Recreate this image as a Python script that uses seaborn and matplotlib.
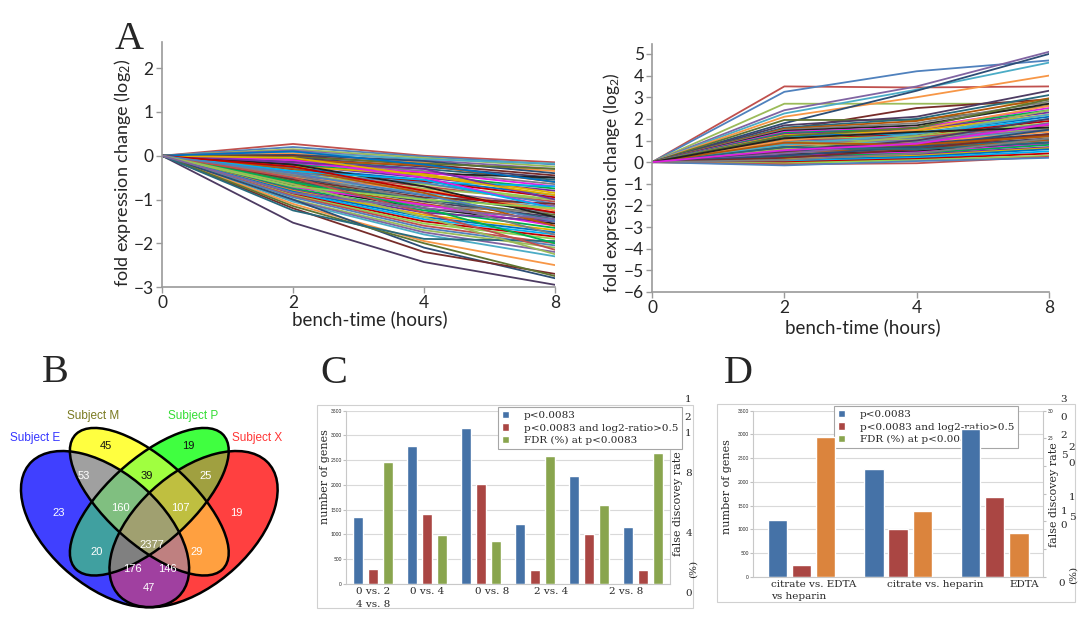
import itertools
import numpy as np, pandas as pd
import matplotlib; matplotlib.use('Agg')
import matplotlib.pyplot as plt
from matplotlib.colors import to_rgb
from matplotlib.patches import Ellipse, Patch, Rectangle
from matplotlib.transforms import ScaledTranslation
import seaborn as sns

W, H = 1080, 624

# ---------------- data ----------------
times = ["0", "2", "4", "8"]

# A (left): log2 fold change at 2, 4, 8 h (0 h is the reference = 0)
down_genes = [
    [0.27, 0.00, -0.15], [0.20, -0.02, -0.20], [0.15, -0.05, -0.25], [0.12, -0.10, -0.30],
    [0.08, -0.08, -0.18], [0.05, -0.15, -0.35], [0.02, -0.12, -0.40], [0.00, -0.20, -0.45],
    [-0.03, -0.18, -0.30], [-0.05, -0.25, -0.50], [-0.08, -0.30, -0.55], [-0.10, -0.22, -0.60],
    [-0.12, -0.35, -0.65], [-0.15, -0.40, -0.50], [-0.18, -0.38, -0.70], [-0.20, -0.45, -0.75],
    [-0.22, -0.50, -0.80], [-0.25, -0.42, -0.85], [-0.28, -0.55, -0.90], [-0.30, -0.60, -0.70],
    [-0.32, -0.58, -0.95], [-0.35, -0.65, -1.00], [-0.38, -0.70, -1.05], [-0.40, -0.62, -1.10],
    [-0.42, -0.75, -1.00], [-0.45, -0.80, -1.15], [-0.48, -0.85, -1.20], [-0.50, -0.78, -1.25],
    [-0.52, -0.90, -1.30], [-0.55, -0.95, -1.10], [-0.58, -1.00, -1.35], [-0.60, -1.05, -1.40],
    [-0.62, -0.98, -1.45], [-0.65, -1.10, -1.50], [-0.68, -1.15, -1.30], [-0.70, -1.20, -1.55],
    [-0.72, -1.12, -1.60], [-0.75, -1.25, -1.65], [-0.78, -1.30, -1.50], [-0.80, -1.35, -1.70],
    [-0.82, -1.40, -1.75], [-0.85, -1.45, -1.80], [-0.88, -1.50, -1.85], [-0.90, -1.55, -1.90],
    [-0.92, -1.60, -2.00], [-0.95, -1.65, -2.05], [-1.00, -1.70, -2.10], [-1.02, -1.75, -2.20],
    [-1.05, -1.80, -2.30], [-1.10, -1.95, -2.50], [-1.00, -2.10, -2.80], [-1.20, -2.20, -2.70],
    [-1.15, -2.00, -2.75], [-1.53, -2.43, -2.95], [-1.25, -1.90, -1.95], [-0.30, -0.85, -1.60],
    [-0.45, -1.00, -1.80], [-0.20, -0.70, -1.40], [-0.10, -0.50, -1.20], [-0.60, -1.20, -2.00],
    [-0.15, -0.30, -1.00], [-0.05, -0.45, -0.90], [0.10, -0.20, -0.60], [-0.35, -0.55, -1.20],
    [-0.25, -0.80, -1.30], [-0.70, -1.00, -1.20], [-0.50, -1.30, -2.15], [-0.40, -0.90, -1.50],
    [-0.65, -1.40, -2.25], [-0.85, -1.20, -1.45],
]

# A (right)
up_genes = [
    [3.50, 3.45, 3.50], [3.25, 4.20, 4.70], [2.70, 2.70, 2.70], [2.40, 3.50, 5.10],
    [2.25, 3.35, 4.60], [2.10, 3.00, 4.00], [1.80, 3.30, 5.00], [1.50, 2.50, 2.90],
    [1.95, 1.95, 2.60], [1.70, 2.10, 3.30], [1.60, 2.00, 3.10], [1.55, 1.90, 2.95],
    [1.50, 1.80, 2.80], [1.45, 1.70, 2.70], [1.40, 1.60, 2.50], [1.35, 1.55, 2.40],
    [1.30, 1.50, 2.30], [1.25, 1.45, 2.20], [1.20, 1.35, 2.10], [1.15, 1.30, 2.00],
    [1.10, 1.25, 1.90], [1.05, 1.20, 1.80], [1.00, 1.15, 1.70], [0.95, 1.10, 1.60],
    [0.90, 1.05, 1.55], [0.85, 1.00, 1.50], [0.80, 0.95, 1.45], [0.75, 0.90, 1.40],
    [0.70, 0.85, 1.30], [0.65, 0.80, 1.25], [0.60, 0.75, 1.20], [0.55, 0.70, 1.10],
    [0.50, 0.65, 1.05], [0.45, 0.60, 1.00], [0.40, 0.55, 0.95], [0.35, 0.50, 0.90],
    [0.30, 0.45, 0.85], [0.25, 0.40, 0.80], [0.20, 0.35, 0.70], [0.15, 0.30, 0.65],
    [0.10, 0.25, 0.60], [0.05, 0.20, 0.50], [0.00, 0.15, 0.40], [-0.05, 0.10, 0.30],
    [-0.10, -0.05, 0.25], [-0.15, 0.05, 0.20], [0.60, 1.20, 2.40], [0.40, 0.90, 1.80],
    [0.80, 1.30, 2.20], [1.00, 1.50, 2.60], [0.30, 0.70, 1.50], [0.20, 0.60, 1.30],
    [1.20, 1.60, 2.90], [0.50, 1.00, 2.00], [0.70, 0.60, 0.90], [0.90, 0.80, 1.20],
    [0.10, 0.40, 1.10], [1.10, 1.40, 1.60], [0.55, 0.85, 1.75],
]

# B: Venn diagram
venn_sets = ["Subject E", "Subject M", "Subject P", "Subject X"]
venn_regions = ["M", "P", "EM", "MP", "PX", "E", "EMP", "MPX", "X",
                "EP", "EMPX", "MX", "EMX", "EPX", "EX"]
venn_counts = [45, 19, 53, 39, 25, 23, 160, 107, 19, 20, 2377, 29, 176, 146, 47]

# C and D: bars
series = ["p<0.0083", "p<0.0083 and log2-ratio>0.5", "FDR (%) at p<0.0083"]
cmp_c = ["0 vs. 2", "0 vs. 4", "0 vs. 8", "2 vs. 4", "2 vs. 8", "4 vs. 8"]
sig_c = [1346, 2787, 3157, 1218, 2181, 1151]
sig_ratio_c = [310, 1407, 2019, 283, 1003, 276]
fdr_c = [8.18, 3.29, 2.89, 8.63, 5.33, 8.79]

cmp_d = ["citrate vs. EDTA", "citrate vs. heparin", "EDTA vs heparin"]
sig_d = [1195, 2277, 3106]
sig_ratio_d = [253, 998, 1687]
fdr_d = [25.2, 11.9, 7.95]

# ---------------- style ----------------
sns.set_style("white")
plt.rcParams['font.family'] = ['Lato', 'DejaVu Sans']
plt.rcParams['mathtext.fontset'] = 'custom'
plt.rcParams['mathtext.rm'] = 'Lato'
plt.rcParams['mathtext.it'] = 'Lato'

line_colors = ["#c0504d", "#4f81bd", "#9bbb59", "#8064a2", "#4bacc6", "#f79646", "#2c4d75",
               "#772c2a", "#5f7530", "#4d3b62", "#276a7c", "#b65708", "#7f7f7f", "#222222",
               "#e020e0", "#00b050", "#7030a0", "#e0b000", "#0070c0", "#00b0f0", "#c00000",
               "#92d050"]
venn_colors = {"E": "#4040ff", "M": "#ffff40", "P": "#40ff40", "X": "#ff4040"}
venn_txt = ["#3535ff", "#7a7a20", "#33dd33", "#ff3535"]
XL_BLUE, XL_RED, XL_GREEN, XL_ORANGE = "#4572a7", "#aa4643", "#89a54e", "#db843d"
GRID = "#d9d9d9"
SERIF = "DejaVu Serif"


def box(l, t, r, b):
    return [l / W, 1 - b / H, (r - l) / W, (b - t) / H]


def ftext(x, y, s, **kw):
    fig.text(x / W, 1 - y / H, s, **kw)


def gene_frame(rows):
    recs = []
    for i, r in enumerate(rows):
        for j, v in enumerate([0.0] + list(r)):
            recs.append((f"g{i}", j, v))
    return pd.DataFrame(recs, columns=["gene", "t", "fold"])


fig = plt.figure(figsize=(W / 100, H / 100), dpi=100)


def line_panel(rect, rows, ylim, yticks, ylab_size, ylab_xy, xlab_xy):
    ax = fig.add_axes(rect)
    df = gene_frame(rows)
    pal = [line_colors[i % len(line_colors)] for i in range(len(rows))]
    sns.lineplot(data=df, x="t", y="fold", hue="gene", palette=pal, legend=False,
                 estimator=None, sort=False, lw=1.3, ax=ax)
    ax.set_xlim(0, len(times) - 1)
    ax.set_ylim(*ylim)
    ax.set_xticks(range(len(times)), times)
    ax.set_yticks(yticks)
    for s in ["top", "right"]:
        ax.spines[s].set_visible(False)
    for s in ["left", "bottom"]:
        ax.spines[s].set_color("#9a9a9a")
        ax.spines[s].set_linewidth(1.2)
    ax.tick_params(axis="both", labelsize=12.5, color="#9a9a9a", length=4, width=1, pad=2,
                   left=True, bottom=True)
    ax.set_ylabel("fold expression change (log$_2$)", fontsize=ylab_size)
    ax.set_xlabel("bench-time (hours)", fontsize=13.5)
    ax.yaxis.set_label_coords(*ylab_xy)
    ax.xaxis.set_label_coords(*xlab_xy)
    return ax


line_panel(box(162, 42, 555, 287), down_genes, (-3, 2.6), range(-3, 3), 13,
           (-0.074, 0.465), (0.53, -0.095))
line_panel(box(652, 44, 1049, 292), up_genes, (-6, 5.46), range(-6, 6), 12.5,
           (-0.076, 0.44), (0.53, -0.105))

# ---------------- B: Venn ----------------
venn_shapes = {"E": (0.35, 0.47, 0.35, 0.20, 135), "M": (0.50, 0.57, 0.35, 0.15, 135),
               "P": (0.50, 0.57, 0.35, 0.15, 45), "X": (0.65, 0.47, 0.35, 0.20, 45)}


def ellipse_poly(cx, cy, a, b, ang, n=360):
    t = np.linspace(0, 2 * np.pi, n, endpoint=False)
    th = np.deg2rad(ang)
    x = cx + a * np.cos(t) * np.cos(th) - b * np.sin(t) * np.sin(th)
    y = cy + a * np.cos(t) * np.sin(th) + b * np.sin(t) * np.cos(th)
    return list(zip(x, y))


def clip_convex(subject, clipper):
    # Sutherland-Hodgman, clipper is convex and counter-clockwise
    out = subject
    for i in range(len(clipper)):
        a, b = clipper[i - 1], clipper[i]
        side = lambda p: (b[0] - a[0]) * (p[1] - a[1]) - (b[1] - a[1]) * (p[0] - a[0])
        inp, out = out, []
        if not inp:
            break
        s = inp[-1]
        for e in inp:
            ds, de = side(s), side(e)
            if de >= 0:
                if ds < 0:
                    k = ds / (ds - de)
                    out.append((s[0] + k * (e[0] - s[0]), s[1] + k * (e[1] - s[1])))
                out.append(e)
            elif ds >= 0:
                k = ds / (ds - de)
                out.append((s[0] + k * (e[0] - s[0]), s[1] + k * (e[1] - s[1])))
            s = e
    return out


axV = fig.add_axes(box(1.8, 397.6, 296.8, 616.8))
axV.set_xlim(0, 1)
axV.set_ylim(0.15, 0.95)
axV.axis("off")
polys = {k: ellipse_poly(*v) for k, v in venn_shapes.items()}
# every region gets the mean colour of the subjects it belongs to
for size in range(1, 5):
    for combo in itertools.combinations("EMPX", size):
        poly = polys[combo[0]]
        for k in combo[1:]:
            poly = clip_convex(poly, polys[k])
        if len(poly) < 3:
            continue
        col = np.mean([to_rgb(venn_colors[k]) for k in combo], axis=0)
        xs, ys = zip(*poly)
        axV.fill(xs, ys, color=col, lw=0)
for (cx, cy, a, b, ang) in venn_shapes.values():
    axV.add_patch(Ellipse((cx, cy), 2 * a, 2 * b, angle=ang, fill=False, edgecolor="black", lw=1.8))

count_pos = [(106, 446), (188, 446), (84, 476), (147, 476), (206, 476), (59, 513), (120, 508),
             (180, 508), (236, 513), (97, 552), (152, 545), (197, 552), (132, 569), (167, 569),
             (149, 588)]
dark_regions = {"M", "P", "MP"}
for reg, c, (x, y) in zip(venn_regions, venn_counts, count_pos):
    ftext(x, y, str(c), ha="center", va="center", fontsize=8, family="Liberation Sans",
          color="#111111" if reg in dark_regions else "white")
set_pos = [(35, 438), (93, 416), (193, 416), (257, 438)]
for name, col, (x, y) in zip(venn_sets, venn_txt, set_pos):
    ftext(x, y, name, ha="center", va="center", fontsize=8.5, family="Liberation Sans", color=col)

# ---------------- C / D: bars ----------------
pal_bars = dict(zip(series, [XL_BLUE, XL_RED, XL_GREEN]))


def bar_panel(rect, cats, sig, sig_ratio, fdr, fdr_color, width, gap, fdr_top):
    ax = fig.add_axes(rect)
    n = len(cats)
    df = pd.DataFrame({"cmp": cats * 2, "series": [series[0]] * n + [series[1]] * n,
                       "genes": sig + sig_ratio})
    dff = pd.DataFrame({"cmp": cats, "series": series[2], "fdr": fdr})
    pal = dict(pal_bars)
    pal[series[2]] = fdr_color
    sns.barplot(data=df, x="cmp", y="genes", hue="series", order=cats, hue_order=series,
                palette=pal, width=width, gap=gap, dodge=True, errorbar=None, legend=False,
                saturation=1, ax=ax)
    ax2 = ax.twinx()
    sns.barplot(data=dff, x="cmp", y="fdr", hue="series", order=cats, hue_order=series,
                palette=pal, width=width, gap=gap, dodge=True, errorbar=None, legend=False,
                saturation=1, ax=ax2)
    ax.set_xlim(-0.5, n - 0.5)
    ax.set_ylim(0, 3500)
    ax2.set_ylim(0, fdr_top)
    ax.set_yticks(range(0, 3501, 500))
    ax.set_axisbelow(True)
    ax.yaxis.grid(True, color=GRID, lw=0.8)
    ax.xaxis.grid(False)
    for s in ["top", "right"]:
        ax.spines[s].set_visible(False)
    for s in ["left", "bottom"]:
        ax.spines[s].set_color("#c8c8c8")
        ax.spines[s].set_linewidth(0.8)
    for s in ["top", "left", "bottom"]:
        ax2.spines[s].set_visible(False)
    ax2.spines["right"].set_color("#c8c8c8")
    ax2.spines["right"].set_linewidth(0.8)
    ax.tick_params(axis="y", labelsize=3.5, length=2, color="#c0c0c0", pad=1)
    ax.tick_params(axis="x", length=0, labelsize=7.5, pad=2.5)
    ax.set_xlabel("")
    ax.set_ylabel("number of genes", family=SERIF, fontsize=8)
    ax2.set_ylabel("")
    return ax, ax2


def legend(ax, x, y):
    handles = [Patch(facecolor=c) for c in [XL_BLUE, XL_RED, XL_GREEN]]
    leg = ax.legend(handles, series, loc="upper left", bbox_to_anchor=(x / W, 1 - y / H),
                    bbox_transform=fig.transFigure, frameon=True, fancybox=False,
                    edgecolor="#a6a6a6", borderaxespad=0, framealpha=1,
                    prop={"family": SERIF, "size": 7.5}, handlelength=0.75, handleheight=0.75,
                    handletextpad=1.4, labelspacing=0.3, borderpad=0.35)
    leg.get_frame().set_linewidth(0.8)
    return leg


# C
axC, axC2 = bar_panel(box(346, 410.7, 670, 584), cmp_c, sig_c, sig_ratio_c, fdr_c,
                      XL_GREEN, 0.825, 0.31, 11.65)
c_tick_shift = [0, 0, 0.2, 0.3, 0.69]
c_labels = [cmp_c[0] + "\n" + cmp_c[5]] + cmp_c[1:5]
axC.set_xticks([i + s for i, s in enumerate(c_tick_shift)], c_labels, family=SERIF,
               linespacing=1.45)
axC.yaxis.set_label_coords(-0.049, 0.62)
axC2.set_yticks([0, 4, 8])
axC2.tick_params(axis="y", length=0, labelsize=7.5, pad=11)
for lab in axC2.get_yticklabels():
    lab.set_family(SERIF)
    lab.set_transform(lab.get_transform() + ScaledTranslation(0, -0.08, fig.dpi_scale_trans))
for s, (x, y) in zip(["1", "2", "1"], [(688, 400), (688, 418), (688, 434)]):
    ftext(x, y, s, ha="center", va="center", fontsize=7.5, family=SERIF)
legend(axC2, 498, 407)
ftext(678, 504, "false discovey rate", rotation=90, ha="center", va="center",
      fontsize=8, family=SERIF)
ftext(693, 569, "(%)", rotation=90, ha="center", va="center", fontsize=7.5, family=SERIF)

# D
axD, axD2 = bar_panel(box(753, 410.7, 1043, 576.7), cmp_d, sig_d, sig_ratio_d, fdr_d,
                      XL_ORANGE, 0.75, 0.2, 30)
d_labels = [cmp_d[0] + "\n" + cmp_d[2].split(" ", 1)[1], cmp_d[1], cmp_d[2].split(" ")[0]]
axD.set_xticks([-0.314, 1.39, 2.31], d_labels, family=SERIF, linespacing=1.45)
axD.get_xticklabels()[0].set_horizontalalignment("left")
axD.yaxis.set_label_coords(-0.072, 0.54)
axD2.set_yticks(range(0, 31, 5), ["", "", "", "", "", "25", "30"])
axD2.tick_params(axis="y", length=2.5, color="#c0c0c0", labelsize=3.5, pad=1)
legD = legend(axD, 834, 406)
legD.set_zorder(0.6)
d_junk = [("3", 1064, 400), ("0", 1064, 417), ("2", 1064, 435), ("2", 1072, 447),
          ("5", 1064, 455), ("0", 1072, 463), ("1", 1072, 498), ("1", 1064, 511),
          ("5", 1072, 518), ("0", 1064, 525), ("0", 1062, 583)]
for s, x, y in d_junk:
    ftext(x, y, s, ha="center", va="center", fontsize=7.5, family=SERIF)
ftext(1054, 495, "false discovey rate", rotation=90, ha="center", va="center",
      fontsize=8, family=SERIF)
ftext(1073, 575, "(%)", rotation=90, ha="center", va="center", fontsize=7.5, family=SERIF)

# outer chart frames (Excel chart areas)
for l, t, r, b in [(317, 405, 693, 608), (717, 404, 1075, 602)]:
    fig.add_artist(Rectangle((l / W, 1 - b / H), (r - l) / W, (b - t) / H,
                             transform=fig.transFigure, fill=False, edgecolor="#d0d0d0", lw=0.8))

# panel letters
for s, x, y in [("A", 115, 49), ("B", 42, 382), ("C", 320, 383), ("D", 724, 383)]:
    ftext(x, y, s, ha="left", va="baseline", fontsize=29, family="Liberation Serif")

fig.savefig("out.png", dpi=100)
